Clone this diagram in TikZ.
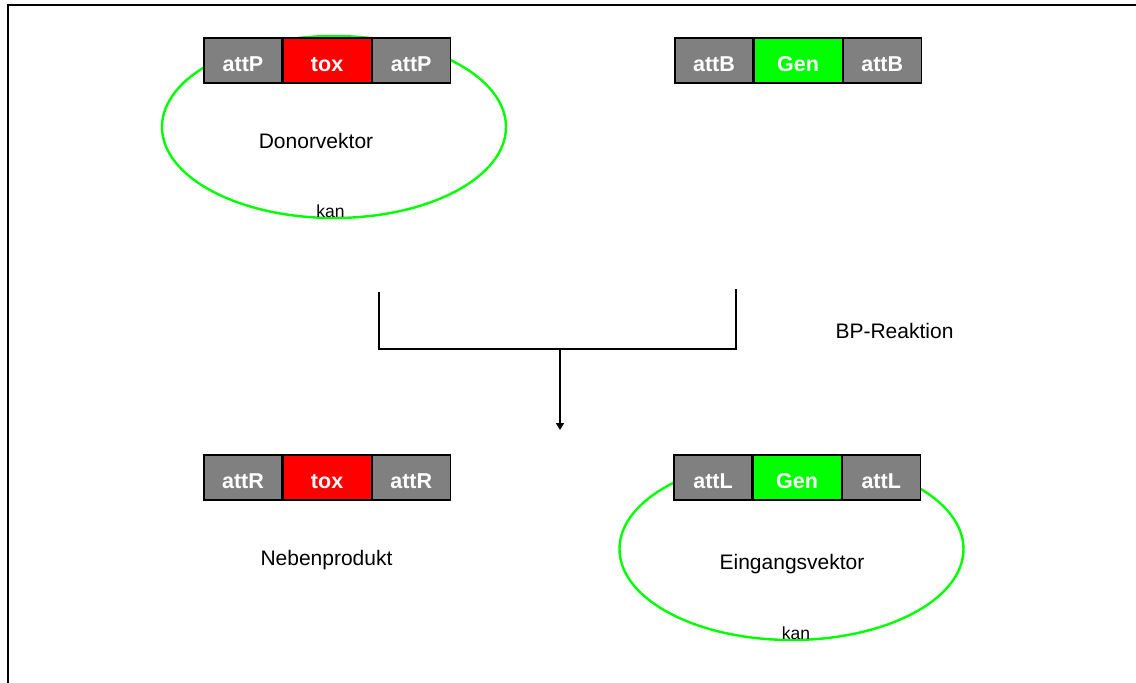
\documentclass[tikz,border=0pt]{standalone}
\usepackage{fontspec}
\setmainfont{Liberation Sans}
\usetikzlibrary{arrows.meta,shapes.geometric,positioning}
\definecolor{attgray}{HTML}{808080}
\definecolor{toxred}{HTML}{FF0000}
\definecolor{genegreen}{HTML}{00FF00}

\begin{document}
\begin{tikzpicture}[x=1pt,y=-1pt,
  seg/.style={draw=black, line width=1.1pt, minimum height=45pt, inner sep=0pt,
    text=white, font=\fontsize{21.5}{21.5}\selectfont\bfseries,
    text height=21pt, text depth=0pt},
  attseg/.style={seg, fill=attgray, minimum width=78pt},
  toxseg/.style={seg, fill=toxred, minimum width=88pt},
  genseg/.style={seg, fill=genegreen, minimum width=88pt},
  plasmid/.style={ellipse, draw=genegreen, line width=2.4pt, inner sep=0pt,
    minimum width=344pt, minimum height=182pt},
  caption/.style={anchor=base, inner sep=0pt, font=\fontsize{21}{25}\selectfont},
  marker/.style={anchor=base, inner sep=0pt, font=\fontsize{17.5}{20}\selectfont},
  flow/.style={draw=black, line width=1.3pt},
  frame/.style={draw=black, line width=2pt}
]
\useasboundingbox (0,0) rectangle (1136,683);

% outer frame (left and top edges)
\draw[frame] (7.5,683) -- (7.5,5) -- (1136,5);

% plasmid backbones
\node[plasmid] (donor) at (334,127) {};
\node[plasmid] (entry) at (791.5,549) {};

% donor vector cassette
\node[attseg] (p1) at (243,60.5) {attP};
\node[toxseg, right=0pt of p1] (ptox) {tox};
\node[attseg, right=0pt of ptox] (p2) {attP};

% gene fragment with attB sites
\node[attseg] (b1) at (714,60.5) {attB};
\node[genseg, right=0pt of b1] (bgen) {Gen};
\node[attseg, right=0pt of bgen] (b2) {attB};

% by-product
\node[attseg] (r1) at (243,477.5) {attR};
\node[toxseg, right=0pt of r1] (rtox) {tox};
\node[attseg, right=0pt of rtox] (r2) {attR};

% entry vector cassette
\node[attseg] (l1) at (713,477.5) {attL};
\node[genseg, right=0pt of l1] (lgen) {Gen};
\node[attseg, right=0pt of lgen] (l2) {attL};

% labels
\node[caption] (donorname) at (316,148.3) {Donorvektor};
\node[marker] (donorkan) at (330.5,217) {kan};
\node[caption] (entryname) at (792,569.3) {Eingangsvektor};
\node[marker] (entrykan) at (796,639) {kan};
\node[caption] (byname) at (326.5,565) {Nebenprodukt};
\node[caption] (reaction) at (894.5,338.3) {BP-Reaktion};

% reaction bracket and arrow
\coordinate (inL) at (379,291.5);
\coordinate (inR) at (736,289);
\coordinate (join) at (560,349);
\coordinate (out) at (560,430);
\draw[flow] (inL) -- (inL |- join) -- (inR |- join) -- (inR);
\draw[flow, -{Triangle[width=8pt,length=7pt]}] (join) -- (out);
\end{tikzpicture}
\end{document}
